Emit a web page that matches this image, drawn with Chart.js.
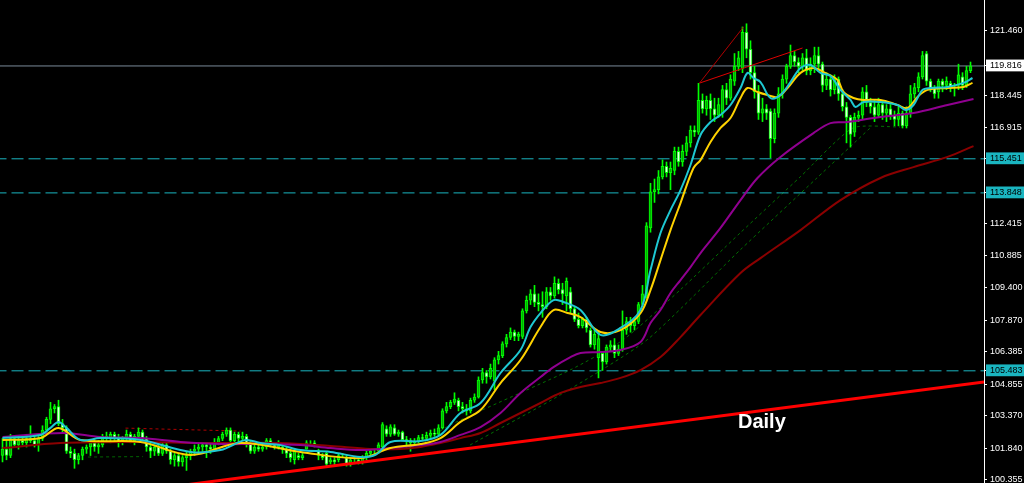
<!DOCTYPE html>
<html><head><meta charset="utf-8">
<script src="https://cdn.jsdelivr.net/npm/chart.js@4.4.1/dist/chart.umd.min.js"></script>
<style>html,body{margin:0;padding:0;background:#000;overflow:hidden}#wrap{width:1024px;height:483px;position:relative}canvas{display:block}</style>
</head><body><div id="wrap"><canvas id="c" width="1024" height="483" style="width:1024px;height:483px"></canvas></div>
<script>
// ---- candle data (daily OHLC) ----
const opens = [
101.5,101.8,101.5,102.3,102.0,102.2,102.1,102.3,102.2,102.0,
102.3,102.7,103.2,103.7,103.8,103.0,102.8,101.7,101.6,101.3,
101.5,101.8,101.9,102.1,101.9,102.0,102.4,102.3,102.5,102.3,
102.1,102.3,102.5,102.2,102.4,102.6,102.3,101.9,101.7,101.9,
101.6,102.0,101.7,101.3,101.5,101.2,101.4,101.5,101.7,101.8,
101.9,102.0,101.9,101.8,102.1,102.3,102.5,102.7,102.2,102.5,
102.3,102.4,102.1,101.7,101.9,101.8,101.9,102.2,102.0,101.9,
101.9,101.8,101.6,101.3,101.5,101.4,101.8,102.1,102.1,101.7,
101.5,101.6,101.2,101.3,101.3,101.5,101.4,101.1,101.3,101.3,
101.2,101.4,101.6,101.7,101.7,101.9,102.75,102.5,102.8,102.5,
102.6,102.25,102.2,102.1,102.15,102.35,102.3,102.45,102.55,102.5,
102.8,103.6,103.8,104.0,104.1,103.8,103.7,103.6,104.1,104.25,
105.05,105.4,105.2,105.0,106.0,106.2,106.75,107.05,107.3,107.1,
107.1,108.3,108.8,109.1,108.7,108.6,108.5,109.2,109.0,109.6,
109.3,109.0,109.2,108.4,107.9,107.6,107.9,107.4,106.7,106.1,
106.3,105.9,106.6,106.7,106.3,106.5,107.4,107.8,107.6,107.8,
108.6,109.0,112.2,113.9,114.0,114.6,115.1,114.8,114.9,115.8,
115.3,115.8,116.2,116.8,116.7,118.2,117.8,118.2,117.8,117.5,
117.6,118.7,118.3,119.1,119.8,119.7,121.4,120.6,119.5,118.6,
117.6,117.8,117.7,116.4,117.6,118.5,119.2,119.8,120.3,120.0,
119.8,120.2,119.6,119.9,120.3,119.9,118.9,119.2,118.7,119.2,
118.5,117.9,117.4,116.7,117.4,117.5,118.6,118.1,117.9,117.5,
118.0,117.6,117.8,117.5,117.3,117.6,117.0,117.6,118.5,118.8,
119.3,120.4,119.1,118.8,118.6,119.1,118.9,119.0,118.8,118.9,
119.3,118.9,119.6];
const highs = [
102.3,102.2,102.5,102.4,102.4,102.4,102.5,102.9,102.5,102.4,
102.9,103.3,104.0,103.9,104.1,103.2,102.9,101.9,101.8,101.6,
101.9,102.0,102.2,102.3,102.2,102.5,102.6,102.6,102.6,102.5,
102.4,102.7,102.6,102.5,102.8,102.7,102.4,102.1,102.0,102.1,
102.1,102.1,101.8,101.6,101.6,101.5,101.7,101.8,102.0,102.1,
102.1,102.1,102.1,102.3,102.4,102.6,102.8,102.8,102.6,102.6,
102.6,102.5,102.2,102.0,102.0,102.0,102.3,102.3,102.1,102.2,
102.0,101.9,101.8,101.8,101.6,101.6,102.2,102.2,102.2,101.8,
101.6,101.7,101.4,101.4,101.6,101.6,101.5,101.4,101.4,101.4,
101.5,101.7,101.8,101.8,102.1,103.05,102.9,102.95,102.95,102.7,
102.65,102.4,102.3,102.3,102.45,102.5,102.6,102.7,102.75,102.95,
103.7,104.0,104.1,104.45,104.2,104.0,103.9,104.2,104.4,105.2,
105.6,105.5,105.8,106.1,106.4,106.85,107.2,107.5,107.4,107.3,
108.4,109.0,109.3,109.5,109.1,109.2,109.4,109.4,109.9,109.8,
109.6,109.85,109.4,108.5,108.2,108.0,108.0,107.5,107.4,107.3,
106.4,106.7,106.9,107.0,106.7,108.3,108.0,108.0,108.0,108.7,
109.5,112.45,114.3,114.5,114.9,115.4,115.3,115.3,116.0,116.0,
116.1,116.5,117.0,117.0,119.0,118.5,118.4,118.5,118.3,118.3,
118.9,119.0,119.4,120.4,120.5,121.65,121.8,121.0,119.8,118.9,
118.3,118.0,117.8,117.8,118.8,119.4,119.9,120.8,120.5,120.2,
120.4,120.6,120.2,120.7,120.7,120.0,119.5,119.4,119.4,119.3,
118.7,118.1,117.5,117.6,117.7,118.8,118.9,118.3,118.2,118.3,
118.2,118.0,118.0,117.7,117.9,117.7,117.9,118.9,119.0,119.5,
120.5,120.5,119.2,118.9,119.2,119.2,119.3,119.1,119.0,119.9,
119.5,119.8,120.0];
const lows = [
101.2,101.3,101.4,101.9,101.8,102.0,101.9,102.1,101.9,101.7,
102.2,102.6,103.0,103.5,102.9,102.6,101.6,101.4,100.9,101.1,
101.3,101.6,101.5,101.7,101.6,101.9,102.2,102.1,102.2,101.9,
102.0,102.2,102.1,102.0,102.3,102.2,101.7,101.4,101.5,101.5,
101.5,101.6,101.1,101.0,101.0,101.0,100.8,101.3,101.5,101.6,
101.7,101.4,101.6,101.7,102.0,102.2,102.4,102.1,102.1,102.1,
102.2,101.9,101.6,101.6,101.7,101.7,101.8,101.9,101.8,101.8,
101.6,101.4,101.2,101.1,101.3,101.3,101.8,102.0,101.9,101.3,
101.3,101.0,101.1,101.0,101.2,101.4,101.0,101.0,101.2,101.1,
101.1,101.3,101.5,101.6,101.6,101.85,102.4,102.4,102.45,102.4,
102.2,101.9,101.7,102.0,102.1,102.2,102.25,102.35,102.4,102.45,
102.75,103.5,103.7,103.9,103.6,103.5,103.4,103.5,104.0,104.2,
104.9,104.9,105.1,104.6,105.8,106.1,106.6,106.95,106.9,106.9,
107.0,108.2,108.6,108.5,108.3,108.0,108.4,108.8,108.9,109.1,
108.6,108.3,108.2,107.8,107.5,107.5,107.3,106.6,106.5,105.15,
105.5,105.8,106.4,106.1,106.2,106.4,107.2,107.3,107.4,107.7,
108.5,108.9,112.0,113.4,113.8,114.5,114.6,114.0,114.7,115.1,
115.1,115.6,116.0,116.5,116.6,117.6,117.5,117.3,117.2,117.4,
117.4,118.0,118.2,118.9,119.6,119.5,120.2,119.2,118.3,117.3,
117.2,117.3,115.5,116.2,117.4,118.3,119.0,119.7,119.8,119.5,
119.6,119.4,119.4,119.5,119.7,118.6,118.7,118.4,118.5,118.2,
117.7,116.2,116.0,116.5,117.2,117.3,117.9,117.6,117.2,117.4,
117.3,117.2,117.3,117.0,117.0,116.9,116.9,117.4,118.3,118.6,
119.2,118.9,118.6,118.3,118.3,118.6,118.7,118.6,118.4,118.7,
118.7,118.8,119.5];
const closes = [
101.8,101.5,102.3,102.0,102.2,102.1,102.3,102.2,102.0,102.3,
102.7,103.2,103.7,103.8,103.0,102.8,101.7,101.6,101.3,101.5,
101.8,101.9,102.1,101.9,102.0,102.4,102.3,102.5,102.3,102.1,
102.3,102.5,102.2,102.4,102.6,102.3,101.9,101.7,101.9,101.6,
102.0,101.7,101.3,101.5,101.2,101.4,101.5,101.7,101.8,101.9,
102.0,101.9,101.8,102.1,102.3,102.5,102.7,102.2,102.5,102.3,
102.4,102.1,101.7,101.9,101.8,101.9,102.2,102.0,101.9,102.1,
101.8,101.6,101.4,101.7,101.4,101.5,102.1,102.1,102.0,101.5,
101.4,101.1,101.3,101.2,101.5,101.5,101.1,101.3,101.3,101.2,
101.4,101.6,101.7,101.7,102.0,102.95,102.5,102.85,102.5,102.6,
102.25,102.2,102.1,102.15,102.35,102.3,102.45,102.55,102.5,102.8,
103.6,103.8,104.0,104.15,103.8,103.7,103.6,104.1,104.25,105.05,
105.4,105.2,105.6,106.0,106.2,106.75,107.05,107.3,107.1,107.2,
108.3,108.8,109.1,108.7,108.6,108.5,109.2,109.0,109.6,109.3,
109.1,109.7,108.4,107.9,107.6,107.9,107.5,106.7,107.2,107.0,
105.9,106.6,106.7,106.3,106.5,107.4,107.8,107.6,107.8,108.6,
109.1,112.3,113.9,114.0,114.6,115.1,114.8,115.0,115.8,115.3,
115.8,116.2,116.8,116.7,118.2,117.8,118.2,117.8,117.5,118.0,
118.7,118.3,119.2,119.8,120.2,121.4,120.6,119.5,118.6,117.6,
117.8,117.6,116.4,117.6,118.5,119.2,119.8,120.3,120.0,119.8,
120.2,119.6,119.9,120.3,119.9,118.9,119.2,118.7,119.2,118.5,
117.9,117.4,116.6,117.4,117.5,118.6,118.1,117.9,117.5,118.0,
117.6,117.8,117.5,117.3,117.6,117.0,117.6,118.5,118.8,119.3,
120.3,119.1,118.8,118.5,119.1,118.9,119.1,118.8,118.8,119.4,
118.9,119.6,119.816];

// ---- moving averages (bar index, price) ----
const cyanIdx = [0,9.5,12,14,16,19.5,24.5,34.5,47,54.5,60.75,64.5,69.5,74.5,82,89.5,93.25,97,104.5,109.5,114.5,119.5,124.5,129.5,132,134.5,137.75,140.25,144.5,149.5,154.5,159.5,162,164.5,167,169.5,172,174.5,177,179.5,182,184.5,186.25,187.75,189.5,192,194.5,197,199.5,202,204.5,207,209.5,212,213.25,215.25,219.5,223.75,225.75,227.75,230,232,236.25,240.25,242.5];
const cyanVal = [102.32,102.47,102.8,103.08,102.8,102.23,102.32,102.23,101.67,101.76,102.23,102.09,101.99,101.76,101.67,101.43,101.53,102.14,102.18,102.47,103.5,103.97,105.38,106.46,107.54,108.2,108.81,108.72,108.34,107.17,107.5,108.34,110.22,111.96,113.04,113.98,115.16,116.57,117.18,117.51,117.98,118.78,119.49,119.25,119.06,118.31,118.45,119.06,119.72,119.86,119.49,119.34,118.69,118.22,117.89,118.12,118.12,117.98,117.75,117.98,118.69,118.78,118.83,119.02,119.25];
const yellowIdx = [0,9.5,14,19.5,34.5,47,59.5,74.5,89.5,97,104.5,109.5,114.5,119.5,124.5,129.5,134.5,137.75,141.25,144.5,149.5,154.5,159.5,162,164.5,167,169.5,172.75,174.5,177,179.5,182,184.5,186.25,188.75,191.25,193.75,196.25,199.5,202.75,205.25,208.75,210.25,212.75,215.25,219.5,223.75,226.25,228.75,231.25,236.25,240.25,242.5];
const yellowVal = [102.23,102.32,102.8,102.23,102.14,101.53,102.09,101.67,101.38,101.85,102.04,102.32,103.08,103.64,104.91,105.99,107.54,108.34,108.2,108.01,107.31,107.4,108.2,109.28,110.69,112.1,113.37,115.02,115.39,116.24,116.9,117.37,118.31,118.78,118.59,118.45,118.36,118.78,119.49,119.72,119.53,119.16,118.59,118.31,118.22,118.22,117.98,117.84,118.36,118.69,118.78,118.83,119.02];
const purpleIdx = [0,15.25,24.5,34.5,44.5,54.5,64.5,74.5,82,89.5,97,104.5,109.5,114.5,119.5,124.5,129.5,134.5,137.75,142,144.5,149.5,154.5,159.5,162,164.5,167,169.5,172,174.5,179.5,184.5,188.75,194.5,202.75,207,211.25,219.5,227.75,236.25,242.75];
const purpleVal = [102.37,102.56,102.37,102.32,102.14,102.04,102.04,101.99,101.85,101.76,101.85,101.99,102.14,102.47,102.84,103.5,104.44,105.19,105.66,106.13,106.32,106.37,106.46,106.84,107.73,108.34,109.14,109.75,110.36,111.02,112.2,113.51,114.55,115.54,116.66,117.13,117.18,117.42,117.6,117.98,118.26];
const darkRedIdx = [0,14.5,34.5,49.5,69.5,82,92,99.5,104.5,109.5,114.5,119.5,124.5,129.5,134.5,139.5,144.5,149.5,154.5,159.5,164.5,169.5,174.5,184.5,189.5,199.5,209.5,219.5,227.75,236.25,242.75];
const darkRedVal = [101.85,102.09,102.14,102.09,102.09,101.95,101.81,101.81,101.9,102.09,102.32,102.56,103.03,103.5,103.97,104.44,104.72,104.91,105.15,105.52,106.13,107.07,108.11,110.08,110.78,112.1,113.51,114.55,115.06,115.54,116.05];

// ---- drawn objects ----
const levelLines = [115.451, 113.848, 105.483];
const currentPrice = 119.816;
const trendIdx = [40, 245.4];
const trendVal = [99.98, 104.96];
const fanIdx = [174.25, 185.25, 174.25, 200.0];
const fanVal = [119.01, 121.65, 119.01, 120.66];
const redDotIdx = [30.75, 59.5];
const redDotVal = [102.79, 102.65];
const greenDotIdx = [21.4, 35.1];
const greenDotVal = [101.43, 101.45];
const chanAIdx = [104.4, 111.9, 141.9, 155.1, 169.4, 184.4, 199.4, 212.6, 224.4];
const chanAVal = [101.996, 102.935, 105.521, 106.932, 109.283, 111.963, 114.595, 116.899, 116.946];
const chanBIdx = [116.9, 139.4, 161.1, 184.4, 203.6, 216.9];
const chanBVal = [101.996, 104.346, 106.932, 111.163, 114.548, 116.899];
const yTicks = [121.460, 119.816, 118.445, 116.915, 115.451, 113.848, 112.415, 110.885, 109.400, 107.870, 106.385, 105.483, 104.855, 103.370, 101.840, 100.355];
const labelText = "Daily";

const pts = (xs, ys) => xs.map((x, k) => ({x, y: ys[k]}));
const LIME = '#00FF00';

const bodies = closes.map((c, i) => ({x: i, y: [opens[i], c]}));
const wicks = closes.map((c, i) => ({x: i, y: [lows[i], highs[i]]}));

const lineDs = (data, color, width, extra) => Object.assign({
  type: 'line', data, borderColor: color, borderWidth: width, pointRadius: 0,
  fill: false, tension: 0.35
}, extra || {});

const hLine = (v, color, dash, order) => lineDs([{x: -2, y: v}, {x: 250, y: v}], color, 1, {borderDash: dash, tension: 0, order});

const textPlugin = {
  id: 'dailyText',
  afterDatasetsDraw(chart) {
    const {ctx, scales} = chart;
    ctx.save();
    ctx.fillStyle = '#FFFFFF';
    ctx.font = 'bold 20px "Liberation Sans", Arial, sans-serif';
    ctx.textBaseline = 'alphabetic';
    ctx.fillText(labelText, scales.x.getPixelForValue(183.875), scales.y.getPixelForValue(102.794));
    ctx.restore();
  }
};

new Chart(document.getElementById('c'), {
  type: 'bar',
  data: {
    datasets: [
      lineDs(pts(trendIdx, trendVal), '#FF0000', 3, {tension: 0, order: 0}),
      lineDs(pts(fanIdx.slice(0,2), fanVal.slice(0,2)), '#B00000', 1, {tension: 0, order: 1}),
      lineDs(pts(fanIdx.slice(2), fanVal.slice(2)), '#E00000', 1, {tension: 0, order: 1}),
      lineDs(pts(cyanIdx, cyanVal), '#1EC8D2', 2, {order: 2}),
      lineDs(pts(yellowIdx, yellowVal), '#FFD200', 2, {order: 3}),
      lineDs(pts(purpleIdx, purpleVal), '#900090', 2, {order: 4}),
      lineDs(pts(darkRedIdx, darkRedVal), '#8B0000', 2, {order: 5}),
      {type: 'bar', data: bodies, grouped: false, barThickness: 3, borderWidth: 1, borderSkipped: false,
       borderColor: LIME, backgroundColor: bodies.map(b => b.y[1] >= b.y[0] ? '#00B000' : '#E0FFE0'), order: 6},
      {type: 'bar', data: wicks, grouped: false, barThickness: 1, borderWidth: 0, backgroundColor: LIME, order: 7},
      hLine(currentPrice, '#7A8A99', [], 8),
      ...levelLines.map(v => hLine(v, '#1AB5C0', [12, 5], 8)),
      lineDs(pts(redDotIdx, redDotVal), '#B00000', 1, {tension: 0, borderDash: [3, 3], order: 9}),
      lineDs(pts(greenDotIdx, greenDotVal), '#006400', 1, {tension: 0, borderDash: [3, 3], order: 9}),
      lineDs(pts(chanAIdx, chanAVal), '#007000', 1, {tension: 0.2, borderDash: [3, 3], order: 9}),
      lineDs(pts(chanBIdx, chanBVal), '#007000', 1, {tension: 0.2, borderDash: [3, 3], order: 9})
    ]
  },
  options: {
    responsive: false, animation: false, devicePixelRatio: 1,
    layout: {padding: 0},
    plugins: {legend: {display: false}, tooltip: {enabled: false}},
    scales: {
      x: {type: 'linear', display: false, offset: false, min: -0.625, max: 245.375, grid: {display: false}},
      y: {
        type: 'linear', position: 'right', min: 100.209, max: 122.917,
        afterFit(s) { s.width = 40; s.paddingTop = 0; s.paddingBottom = 0; },
        afterBuildTicks(s) { s.ticks = yTicks.map(v => ({value: v})); },
        border: {display: true, color: '#FFFFFF', width: 1},
        grid: {display: true, drawOnChartArea: false, drawTicks: true, tickLength: 3, color: '#FFFFFF'},
        ticks: {
          autoSkip: false, padding: 3, crossAlign: 'near',
          font: {family: '"Liberation Sans", Arial, sans-serif', size: 9},
          color: c => (levelLines.includes(c.tick.value) || c.tick.value === currentPrice) ? '#000000' : '#FFFFFF',
          showLabelBackdrop: c => levelLines.includes(c.tick.value) || c.tick.value === currentPrice,
          backdropColor: c => c.tick.value === currentPrice ? '#FFFFFF' : '#1AB5C0',
          backdropPadding: {left: 4, right: 4, top: 1, bottom: 0},
          callback: v => Number(v).toFixed(3)
        }
      }
    }
  },
  plugins: [textPlugin]
});
</script>
</body></html>
